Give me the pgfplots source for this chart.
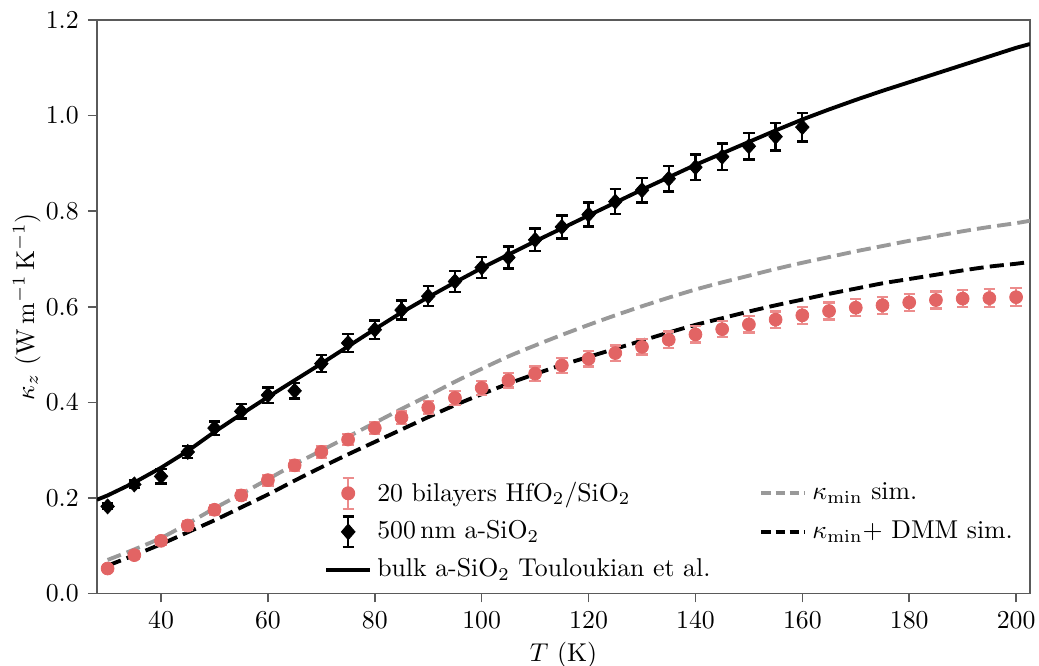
\documentclass[border=0pt]{standalone}
\usepackage{pgfplots}
\pgfplotsset{compat=1.18}
\usepackage{pgfplotstable}
\definecolor{redc}{RGB}{226,100,100}
\definecolor{redbar}{RGB}{236,140,140}
\definecolor{grayd}{RGB}{153,153,153}
\definecolor{spine}{RGB}{90,90,90}

\pgfplotstableread{
T v e
30 0.052 0.007
35 0.080 0.008
40 0.110 0.008
45 0.142 0.009
50 0.175 0.010
55 0.205 0.010
60 0.237 0.011
65 0.268 0.011
70 0.296 0.012
75 0.322 0.012
80 0.346 0.013
85 0.368 0.013
90 0.389 0.014
95 0.409 0.014
100 0.430 0.015
105 0.446 0.015
110 0.460 0.015
115 0.477 0.016
120 0.491 0.016
125 0.503 0.016
130 0.516 0.016
135 0.531 0.017
140 0.542 0.017
145 0.553 0.017
150 0.563 0.017
155 0.573 0.017
160 0.582 0.018
165 0.591 0.018
170 0.598 0.018
175 0.603 0.018
180 0.609 0.018
185 0.614 0.018
190 0.617 0.018
195 0.618 0.019
200 0.620 0.019
}\redtab

\pgfplotstableread{
T v e
30 0.182 0.006
35 0.228 0.008
40 0.245 0.015
45 0.296 0.013
50 0.346 0.014
55 0.381 0.015
60 0.415 0.016
65 0.424 0.016
70 0.481 0.018
75 0.524 0.019
80 0.552 0.019
85 0.593 0.020
90 0.622 0.021
95 0.653 0.022
100 0.682 0.022
105 0.703 0.023
110 0.740 0.024
115 0.767 0.024
120 0.793 0.025
125 0.820 0.026
130 0.844 0.026
135 0.868 0.027
140 0.892 0.027
145 0.914 0.028
150 0.936 0.028
155 0.956 0.029
160 0.976 0.030
}\blacktab

\pgfplotstableread{
T v
28 0.196
30 0.205
35 0.232
40 0.263
45 0.298
50 0.338
55 0.375
60 0.411
65 0.446
70 0.481
75 0.517
80 0.553
85 0.588
90 0.620
95 0.651
100 0.681
105 0.709
110 0.737
115 0.764
120 0.791
125 0.818
130 0.845
135 0.871
140 0.897
145 0.921
150 0.945
155 0.969
160 0.992
165 1.013
170 1.033
175 1.052
180 1.070
190 1.106
200 1.142
202.6 1.150
}\bulktab

\pgfplotstableread{
T v
30 0.070
35 0.092
40 0.116
45 0.146
50 0.178
55 0.208
60 0.239
65 0.270
70 0.299
75 0.328
80 0.357
85 0.386
90 0.414
95 0.443
100 0.470
105 0.496
110 0.519
115 0.541
120 0.562
125 0.582
130 0.601
135 0.619
140 0.636
145 0.651
150 0.665
155 0.679
160 0.692
165 0.704
170 0.716
175 0.727
180 0.738
185 0.748
190 0.758
195 0.767
200 0.775
202.6 0.780
}\kmintab

\pgfplotstableread{
T v
30 0.058
35 0.080
40 0.103
45 0.128
50 0.153
55 0.180
60 0.207
65 0.236
70 0.264
75 0.291
80 0.317
85 0.343
90 0.369
95 0.394
100 0.417
105 0.439
110 0.459
115 0.478
120 0.495
125 0.512
130 0.529
135 0.546
140 0.562
145 0.576
150 0.590
155 0.603
160 0.615
165 0.627
170 0.638
175 0.649
180 0.658
185 0.667
190 0.676
195 0.684
200 0.690
202.6 0.694
}\dmmtab

\begin{document}
\begin{tikzpicture}
\begin{axis}[
  width=362pt, height=222.4pt, scale only axis,
  xmin=28, xmax=202.6, ymin=0, ymax=1.2,
  xtick={40,60,...,200}, ytick={0,0.2,...,1.2},
  yticklabel style={/pgf/number format/.cd, fixed, fixed zerofill, precision=1},
  tick align=outside, tick pos=left,
  major tick length=3.5pt,
  axis line style={spine, line width=0.6pt},
  every tick/.style={spine, line width=0.6pt},
  xlabel={$T$ (K)},
  ylabel={$\kappa_z$ (W\,m$^{-1}$\,K$^{-1}$)},
  xlabel style={yshift=1.5pt},
  ylabel style={yshift=-4.8pt},
  legend style={draw=none, fill=none, at={(0.996,0.003)}, anchor=south east,
    row sep=2pt, /tikz/every even column/.append style={column sep=17pt}},
  legend columns=2,
  legend cell align=left,
]
\coordinate (bl) at (rel axis cs:0,0);
\coordinate (tr) at (rel axis cs:1,1);
\addplot[black, line width=1.5pt, forget plot] table[x=T, y=v] {\bulktab};
\addplot[grayd, line width=1.5pt, smooth, tension=0.5, dash pattern=on 5.5pt off 2.4pt, forget plot] table[x=T, y=v] {\kmintab};
\addplot[black, line width=1.5pt, smooth, tension=0.5, dash pattern=on 5.5pt off 2.4pt, forget plot] table[x=T, y=v] {\dmmtab};
\addplot[forget plot, only marks, mark=*, mark size=2.5pt, mark options={fill=redc, draw=redc, line width=0.3pt},
  error bars/.cd, y dir=both, y explicit,
  error bar style={redbar, line width=0.9pt},
  error mark options={rotate=90, mark size=2.2pt, redbar, line width=0.9pt}]
  table[x=T, y=v, y error=e] {\redtab};
\addplot[forget plot, only marks, mark=diamond*, mark size=2.9pt, mark options={fill=black, draw=black, line width=0.3pt, xscale=1.2},
  error bars/.cd, y dir=both, y explicit,
  error bar style={black, line width=0.9pt},
  error mark options={rotate=90, mark size=2.2pt, black, line width=0.9pt}]
  table[x=T, y=v, y error=e] {\blacktab};

\addlegendimage{legend image code/.code={
  \draw[redbar, line width=0.9pt] (0.3cm,-6pt) -- (0.3cm,6pt);
  \draw[redbar, line width=0.9pt] (0.3cm-2.2pt,-6pt) -- (0.3cm+2.2pt,-6pt);
  \draw[redbar, line width=0.9pt] (0.3cm-2.2pt,6pt) -- (0.3cm+2.2pt,6pt);
  \fill[redc] (0.3cm,0pt) circle (2.5pt);
}}
\addlegendentry{20 bilayers HfO$_2$/SiO$_2$}
\addlegendimage{grayd, line width=1.5pt, dash pattern=on 3.8pt off 1.7pt}
\addlegendentry{$\kappa_{\min}$ sim.}
\addlegendimage{legend image code/.code={
  \draw[black, line width=0.9pt] (0.3cm,-6pt) -- (0.3cm,6pt);
  \draw[black, line width=0.9pt] (0.3cm-2.2pt,-6pt) -- (0.3cm+2.2pt,-6pt);
  \draw[black, line width=0.9pt] (0.3cm-2.2pt,6pt) -- (0.3cm+2.2pt,6pt);
  \fill[black] (0.3cm,3pt) -- (0.3cm+2.6pt,0pt) -- (0.3cm,-3pt) -- (0.3cm-2.6pt,0pt) -- cycle;
}}
\addlegendentry{500\,nm a-SiO$_2$}
\addlegendimage{black, line width=1.5pt, dash pattern=on 3.8pt off 1.7pt}
\addlegendentry{$\kappa_{\min}$+ DMM sim.}
\addlegendimage{black, line width=1.5pt}
\addlegendentry{bulk a-SiO$_2$ Touloukian et al.}
\end{axis}
\pgfresetboundingbox
\path[use as bounding box] ([xshift=-37.6pt,yshift=-27.9pt]bl) rectangle ([xshift=3.5pt,yshift=7.8pt]tr);
\end{tikzpicture}
\end{document}
